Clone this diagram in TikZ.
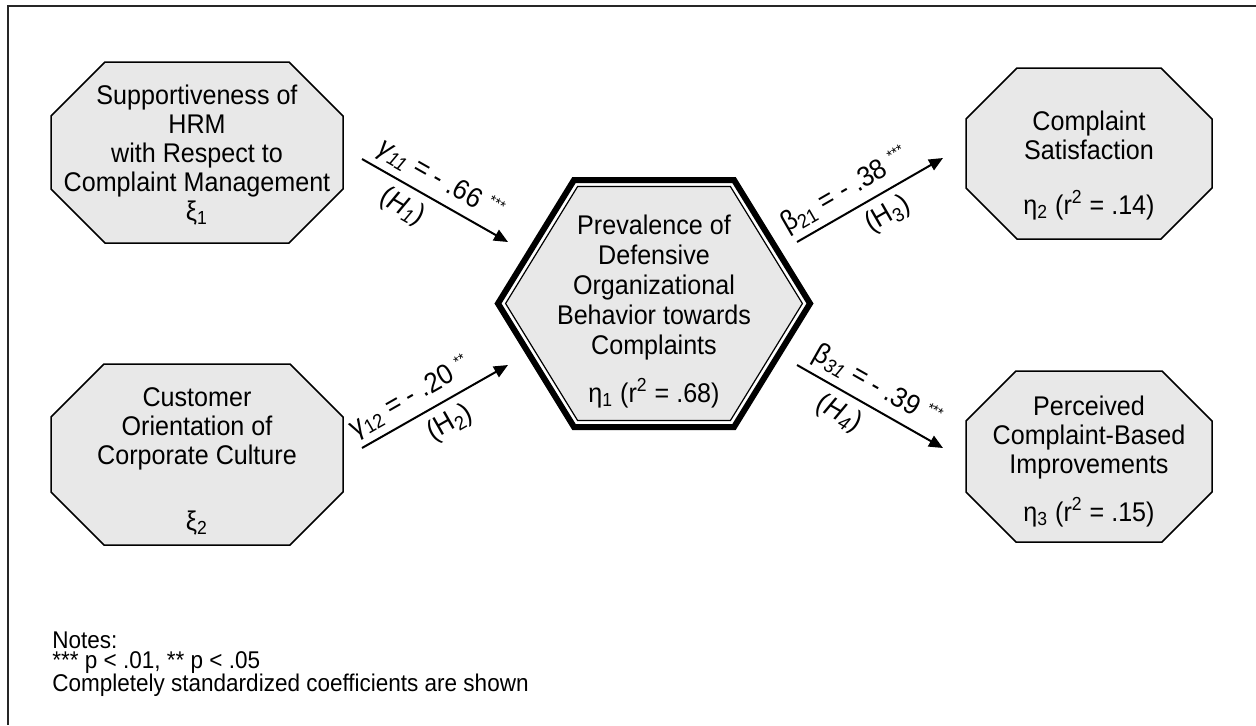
\documentclass[tikz,border=0pt]{standalone}
\usepackage{fontspec}
\setmainfont[FakeStretch=0.93]{Liberation Sans}
\usetikzlibrary{arrows.meta}
\definecolor{boxgray}{RGB}{232,232,232}
\newcommand\octbox[5]{%
  \draw[box] ({#1-#3+#5},{#2-#4}) -- ({#1+#3-#5},{#2-#4}) -- ({#1+#3},{#2-#4+#5})
    -- ({#1+#3},{#2+#4-#5}) -- ({#1+#3-#5},{#2+#4}) -- ({#1-#3+#5},{#2+#4})
    -- ({#1-#3},{#2+#4-#5}) -- ({#1-#3},{#2-#4+#5}) -- cycle;}
\newcommand\stars[1]{\textsuperscript{\fontsize{7.5pt}{7.5pt}\selectfont #1}}
\begin{document}
\begin{tikzpicture}[x=0.5pt,y=-0.5pt,
  box/.style={draw=black, line width=0.75pt, fill=boxgray, line join=miter},
  txt/.style={align=center, inner sep=0pt, font=\fontsize{13.5pt}{14.5pt}\selectfont},
  hextxt/.style={align=center, inner sep=0pt, font=\fontsize{13.5pt}{15.1pt}\selectfont},
  lab/.style={inner sep=0pt, font=\fontsize{14pt}{15pt}\selectfont, sloped},
  note/.style={anchor=west, inner sep=0pt, font=\fontsize{12.1pt}{13pt}\selectfont},
  arr/.style={line width=1pt, -{Triangle[length=7pt,width=6pt]}},
  frame/.style={line width=1pt, draw=black!85}]
\useasboundingbox (0,0) rectangle (1256,725);
\draw[frame] (1256,6) -- (8,6) -- (8,725);

% octagons
\octbox{197}{152.5}{146}{90.5}{54}
\octbox{197}{454.5}{146}{90.5}{53}
\octbox{1089}{153.5}{123}{85.5}{51}
\octbox{1089}{456.5}{123}{85.5}{50}

% hexagon
\draw[line width=3pt, line join=miter, draw=black, fill=white]
  (498,303.5) -- (574,180) -- (734,180) -- (810,303.5) -- (734,427) -- (574,427) -- cycle;
\draw[line width=0.6pt, line join=miter, draw=black, fill=boxgray]
  (505.6,303.5) -- (577.6,186.5) -- (730.4,186.5) -- (802.4,303.5) -- (730.4,420.5) -- (577.6,420.5) -- cycle;

% texts
\node[txt] (hrm) at (197,155) {Supportiveness of\\HRM\\with Respect to\\Complaint Management\\ξ\textsubscript{1}};
\node[txt] (cust) at (197,429) {Customer\\Orientation of\\Corporate Culture};
\node[txt] (xi2) at (197,523) {ξ\textsubscript{2}};
\node[hextxt] (def) at (654,287.5) {Prevalence of\\Defensive\\Organizational\\Behavior towards\\Complaints};
\node[txt] (eta1) at (654,393) {η\textsubscript{1} (r\textsuperscript{2} = .68)};
\node[txt] (sat) at (1089,135) {Complaint\\Satisfaction};
\node[txt] (eta2) at (1089,205) {η\textsubscript{2} (r\textsuperscript{2} = .14)};
\node[txt] (imp) at (1089,438) {Perceived\\Complaint-Based\\Improvements};
\node[txt] (eta3) at (1089,512) {η\textsubscript{3} (r\textsuperscript{2} = .15)};

% arrows
\coordinate (a1s) at (362,159); \coordinate (a1e) at (508,242);
\coordinate (a2s) at (362,448); \coordinate (a2e) at (508,365);
\coordinate (a3s) at (797,242); \coordinate (a3e) at (943,158);
\coordinate (a4s) at (797,365); \coordinate (a4e) at (943,448);

\draw[arr] (a1s) -- node[lab, above=3pt, pos=0.47] {{\itshape γ\textsubscript{11}} = - .66 \stars{***}}
  node[lab, below=4pt, pos=0.35] {({\itshape H\textsubscript{1}})} (a1e);
\draw[arr] (a2s) -- node[lab, above=3pt, pos=0.40] {γ\textsubscript{12} = - .20 \stars{**}}
  node[lab, below=4pt, pos=0.53] {(H\textsubscript{2})} (a2e);
\draw[arr] (a3s) -- node[lab, above=3pt, pos=0.40] {β\textsubscript{21} = - .38 \stars{***}}
  node[lab, below=4pt, pos=0.55] {(H\textsubscript{3})} (a3e);
\draw[arr] (a4s) -- node[lab, above=3pt, pos=0.48] {β\textsubscript{\itshape 31} = - .39 \stars{***}}
  node[lab, below=4pt, pos=0.36] {({\itshape H\textsubscript{4}})} (a4e);

% notes
\node[note] (n1) at (52,640) {Notes:};
\node[note] (n2) at (52,663) {*** p < .01, ** p < .05};
\node[note] (n3) at (52,685) {Completely standardized coefficients are shown};
\end{tikzpicture}
\end{document}
